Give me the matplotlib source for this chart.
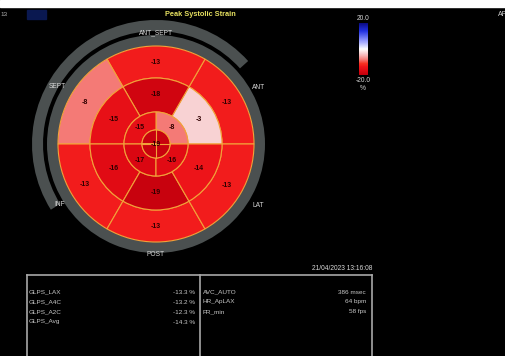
import numpy as np
import matplotlib
matplotlib.use("Agg")
import matplotlib.pyplot as plt
from matplotlib.colors import LinearSegmentedColormap, Normalize
from matplotlib.cm import ScalarMappable
from matplotlib.patches import Rectangle

# segment strain values (%)
basal_angles = [30, 90, 150, 210, 270, 330]
basal_vals = [-13, -13, -8, -13, -13, -13]
mid_angles = [30, 90, 150, 210, 270, 330]
mid_vals = [-3, -18, -15, -16, -19, -14]
apical_angles = [45, 135, 225, 315]
apical_vals = [-8, -15, -17, -16]
apex_val = -19

wall_names = ["ANT", "ANT_SEPT", "SEPT", "INF", "POST", "LAT"]
wall_angles = [29, 90, 150, 212, 270, 329]
wall_radius = [117, 111, 114, 114, 111, 119]

table_left_names = ["GLPS_LAX", "GLPS_A4C", "GLPS_A2C", "GLPS_Avg"]
table_left_vals = ["-13.3 %", "-13.2 %", "-12.3 %", "-14.3 %"]
table_right_names = ["AVC_AUTO", "HR_ApLAX", "FR_min"]
table_right_vals = ["386 msec", "64 bpm", "58 fps"]
timestamp = "21/04/2023 13:16:08"

scale_min, scale_max = -20.0, 20.0

W, H = 506, 356
CX, CY = 156, 144
R_AX = 128
R_BASE, R_MID, R_API, R_APEX = 98, 66, 32, 14

strain_cmap = LinearSegmentedColormap.from_list("strain", [
    (0.00, "#c0000c"),
    (0.08, "#dc0812"),
    (0.16, "#f0161a"),
    (0.22, "#f83222"),
    (0.30, "#f47c78"),
    (0.40, "#f6c4c6"),
    (0.50, "#ffffff"),
    (0.65, "#9aa0ff"),
    (0.85, "#2030e0"),
    (1.00, "#0a0a80"),
])
norm = Normalize(scale_min, scale_max)

fig = plt.figure(figsize=(W / 100, H / 100), dpi=100, facecolor="black")

# pixel-space background axes for text and table frame
bg = fig.add_axes([0, 0, 1, 1])
bg.set_xlim(0, W)
bg.set_ylim(H, 0)
bg.axis("off")
bg.add_patch(Rectangle((0, 0), W, 7, color="white", zorder=0))
bg.add_patch(Rectangle((27, 10), 19, 9, color="#0a1850", zorder=1))
bg.text(0.5, 14, "13", color="#b0b0b0", fontsize=4.6, va="center", ha="left",
        family="Liberation Sans")
bg.text(498, 14, "AP", color="#d0d0d0", fontsize=5, va="center", ha="left",
        family="Liberation Sans")
bg.text(200, 14, "Peak Systolic Strain", color="#e6e060", fontsize=5.3,
        fontweight="bold", ha="center", va="center", family="Liberation Sans")

# polar bullseye
ax = fig.add_axes([(CX - R_AX) / W, (H - CY - R_AX) / H, 2 * R_AX / W, 2 * R_AX / H],
                  projection="polar")
ax.set_ylim(0, R_AX)
ax.axis("off")

line_col = "#f2a23a"
gray = "#4b5050"

# gray rings around the map
ax.bar(0, 11, width=2 * np.pi, bottom=R_BASE, color=gray, linewidth=0)
ax.bar(np.deg2rad(127), 11, width=np.deg2rad(170), bottom=113, color=gray, linewidth=0)

ax.bar(np.deg2rad(basal_angles), R_BASE - R_MID, width=np.deg2rad(60), bottom=R_MID,
       color=strain_cmap(norm(basal_vals)), edgecolor=line_col, linewidth=0.8)
ax.bar(np.deg2rad(mid_angles), R_MID - R_API, width=np.deg2rad(60), bottom=R_API,
       color=strain_cmap(norm(mid_vals)), edgecolor=line_col, linewidth=0.8)
ax.bar(np.deg2rad(apical_angles), R_API - R_APEX, width=np.deg2rad(90), bottom=R_APEX,
       color=strain_cmap(norm(apical_vals)), edgecolor=line_col, linewidth=0.8)
ax.bar(0, R_APEX, width=2 * np.pi, bottom=0,
       color=strain_cmap(norm(apex_val)), edgecolor=line_col, linewidth=0.8)
for a in [0, 90, 180, 270]:
    ax.plot([np.deg2rad(a)] * 2, [0, R_APEX], color=line_col, lw=0.8)

def seg_label(angle, r, v):
    ax.text(np.deg2rad(angle), r, str(v), ha="center", va="center",
            fontsize=5, fontweight="bold", color="#300000", family="Liberation Sans")

for a, v in zip(basal_angles, basal_vals):
    seg_label(a, (R_BASE + R_MID) / 2, v)
for a, v in zip(mid_angles, mid_vals):
    seg_label(a, (R_MID + R_API) / 2, v)
for a, v in zip(apical_angles, apical_vals):
    seg_label(a, (R_API + R_APEX) / 2, v)
seg_label(0, 0, apex_val)

for name, a, r in zip(wall_names, wall_angles, wall_radius):
    ax.text(np.deg2rad(a), r, name, ha="center", va="center", fontsize=4.8,
            color="#d8d8d8", family="Liberation Sans")

# colour scale
cax = fig.add_axes([359 / W, (H - 75) / H, 9 / W, 52 / H])
cb = fig.colorbar(ScalarMappable(norm=norm, cmap=strain_cmap), cax=cax)
cb.outline.set_visible(False)
cb.set_ticks([])
bg.text(363, 19, f"{scale_max:.1f}", color="#d8d8d8", fontsize=4.8, ha="center",
        va="center", family="Liberation Sans")
bg.text(363, 80, f"{scale_min:.1f}", color="#d8d8d8", fontsize=4.8, ha="center",
        va="center", family="Liberation Sans")
bg.text(363, 88, "%", color="#d8d8d8", fontsize=4.8, ha="center", va="center",
        family="Liberation Sans")

# measurement table
frame = "#a8a8a8"
bg.plot([27, 372], [275, 275], color=frame, lw=1.2)
for x in [27, 200, 372]:
    bg.plot([x, x], [275, H + 2], color=frame, lw=1.2)
bg.text(372, 268, timestamp, color="#d8d8d8", fontsize=4.8, ha="right", va="center",
        family="Liberation Sans")
for i, (n, v) in enumerate(zip(table_left_names, table_left_vals)):
    y = 292 + 10 * i
    bg.text(29, y, n, color="#c8c8c8", fontsize=4.6, va="center", family="Liberation Sans")
    bg.text(195, y, v, color="#c8c8c8", fontsize=4.6, va="center", ha="right",
            family="Liberation Sans")
for i, (n, v) in enumerate(zip(table_right_names, table_right_vals)):
    y = 292 + 10 * i
    bg.text(203, y, n, color="#c8c8c8", fontsize=4.6, va="center", family="Liberation Sans")
    bg.text(366, y, v, color="#c8c8c8", fontsize=4.6, va="center", ha="right",
            family="Liberation Sans")

fig.savefig("out.png", dpi=100, facecolor="black")
